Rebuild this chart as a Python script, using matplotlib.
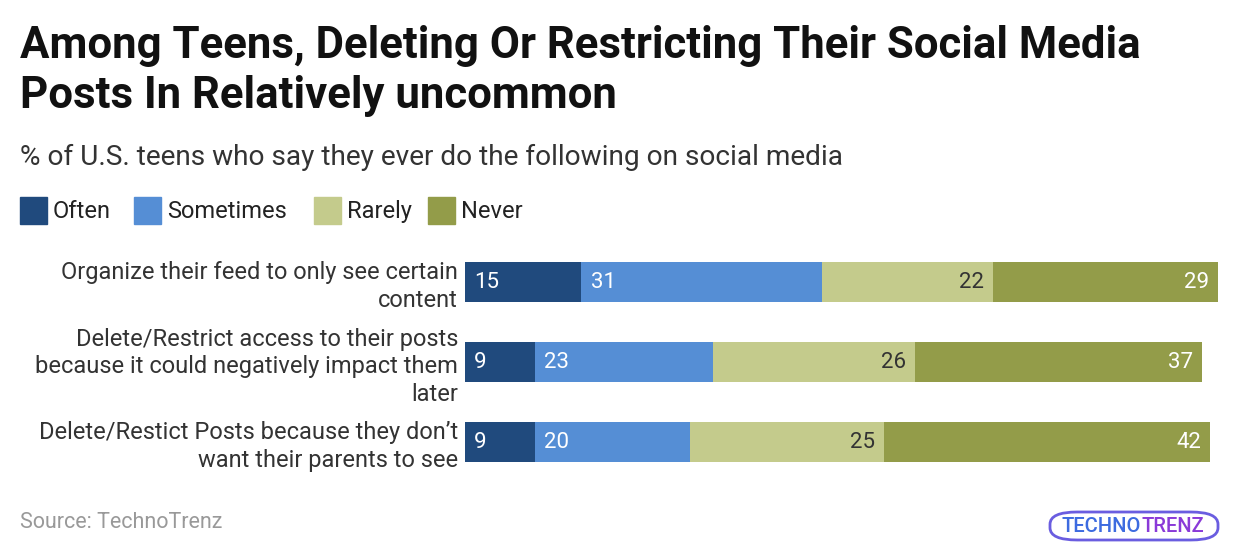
import matplotlib.pyplot as plt
from matplotlib.patches import FancyBboxPatch
import numpy as np

plt.rcParams['font.family'] = ['Roboto', 'DejaVu Sans']

categories = [
    "Organize their feed to only see certain\ncontent",
    "Delete/Restrict access to their posts\nbecause it could negatively impact them\nlater",
    "Delete/Restict Posts because they don\u2019t\nwant their parents to see",
]
series_names = ["Often", "Sometimes", "Rarely", "Never"]
often = [15, 9, 9]
sometimes = [31, 23, 20]
rarely = [22, 26, 25]
never = [29, 37, 42]

colors = ["#204a7d", "#558ed5", "#c4cb8c", "#939c49"]
label_colors = ["white", "white", "#333333", "white"]
label_align = ["left", "left", "right", "right"]

W, H = 1240, 556
fig = plt.figure(figsize=(W / 100, H / 100), dpi=100)
ax = fig.add_axes([465 / W, 74 / H, 753 / W, 240 / H])

values = [often, sometimes, rarely, never]
y = np.arange(len(categories))
left = np.zeros(len(categories))
for name, vals, c, lc, al in zip(series_names, values, colors, label_colors, label_align):
    vals = np.array(vals, dtype=float)
    ax.barh(y, vals, left=left, height=0.5, color=c, label=name)
    for yi, l, v in zip(y, left, vals):
        if al == "left":
            ax.text(l + 1.2, yi, f"{int(v)}", ha="left", va="center", color=lc, fontsize=16)
        else:
            ax.text(l + v - 1.2, yi, f"{int(v)}", ha="right", va="center", color=lc, fontsize=16)
    left += vals

ax.set_xlim(0, 97)
ax.set_ylim(2.5, -0.5)
ax.set_yticks(y)
ax.set_yticklabels(categories, fontsize=17, color="#333333", linespacing=1.25)
ax.tick_params(axis="y", length=0, pad=5)
ax.set_xticks([])
for s in ax.spines.values():
    s.set_visible(False)

fig.text(20 / W, 1 - 46 / H, "Among Teens, Deleting Or Restricting Their Social Media",
         fontsize=31.5, fontweight="bold", color="#111111", va="center", ha="left")
fig.text(20 / W, 1 - 96 / H, "Posts In Relatively uncommon",
         fontsize=31.5, fontweight="bold", color="#111111", va="center", ha="left")
fig.text(20 / W, 1 - 157 / H, "% of U.S. teens who say they ever do the following on social media",
         fontsize=20.2, color="#333333", va="center", ha="left")

# legend
ly = 1 - 211 / H
xpos = [20, 134, 314, 428]
for name, c, x0 in zip(series_names, colors, xpos):
    fig.patches.append(plt.Rectangle((x0 / W, (H - 224) / H), 27 / W, 27 / H,
                                     transform=fig.transFigure, color=c))
    fig.text((x0 + 33) / W, ly, name, fontsize=17, color="#222222", va="center", ha="left")

fig.text(20 / W, 1 - 522 / H, "Source: TechnoTrenz", fontsize=15.5, color="#999999",
         va="center", ha="left")

# logo
box = FancyBboxPatch((1050 / W, (H - 540) / H), 168 / W, 28 / H,
                     boxstyle="round,pad=0,rounding_size=0.022",
                     transform=fig.transFigure, fill=False, edgecolor="#6a5de0", linewidth=2)
fig.patches.append(box)
fig.text(1141 / W, 1 - 526 / H, "TECHNO", fontsize=14.5, color="#3d6be0",
         va="center", ha="right", fontweight="medium")
fig.text(1141 / W, 1 - 526 / H, "TRENZ", fontsize=14.5, color="#8a3ad8",
         va="center", ha="left", fontweight="medium")

fig.savefig("out.png", dpi=100)
